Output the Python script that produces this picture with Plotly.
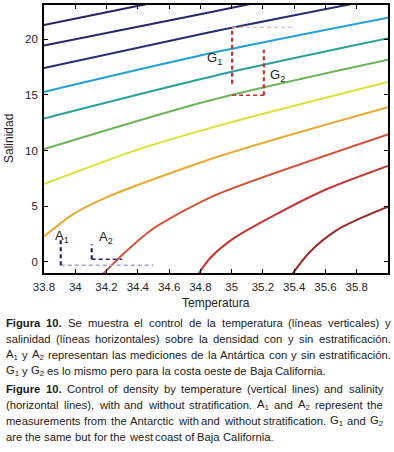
import re
import plotly.graph_objects as go

# ---------------- data ----------------
x_tick_vals = [33.8, 34.0, 34.2, 34.4, 34.6, 34.8, 35.0, 35.2, 35.4, 35.6, 35.8]
x_tick_text = ["33.8", "34", "34.2", "34.4", "34.6", "34.8", "35", "35.2", "35.4", "35.6", "35.8"]
y_tick_vals = [0, 5, 10, 15, 20]
y_tick_text = ["0", "5", "10", "15", "20"]

# density contour lines (x = "Temperatura" axis, y = "Salinidad" axis)
c1_x = [33.80, 34.47]
c1_y = [21.29, 23.20]
c2_x = [33.80, 34.80, 35.13]
c2_y = [19.44, 22.25, 23.20]
c3_x = [33.80, 34.86, 35.76]
c3_y = [17.41, 20.63, 23.15]
c4_x = [33.80, 34.90, 36.00]
c4_y = [15.27, 18.85, 21.94]
c5_x = [33.80, 34.90, 36.00]
c5_y = [12.89, 16.75, 20.09]
c6_x = [33.80, 34.86, 36.00]
c6_y = [10.13, 14.50, 18.16]
c7_x = [33.80, 34.41, 34.93, 36.00]
c7_y = [7.00, 10.13, 12.29, 16.16]
c8_x = [33.80, 33.99, 34.20, 34.93, 36.00]
c8_y = [2.29, 4.32, 5.80, 9.53, 13.90]
c9_x = [34.18, 34.31, 34.48, 34.69, 34.93, 36.00]
c9_y = [-1.05, 0.75, 2.80, 4.55, 6.20, 11.46]
c10_x = [34.79, 34.86, 35.01, 35.29, 35.61, 36.00]
c10_y = [-1.05, 0.30, 2.09, 4.32, 6.55, 8.63]
c11_x = [35.39, 35.50, 35.67, 35.84, 36.00]
c11_y = [-1.05, 0.89, 2.83, 4.02, 4.97]

contour_colors = ["#27235f", "#282667", "#262d70", "#22a0d4", "#2a9f9b",
                  "#6db35a", "#dbe032", "#e9a92e", "#d6503a", "#c93434", "#9b2a2a"]

# measurement markers
a1_x, a1_y = [33.907, 33.907], [-0.30, 1.94]
a1h_x, a1h_y = [33.907, 34.50], [-0.30, -0.30]
a2_x, a2_y = [34.105, 34.105], [0.24, 1.58]
a2h_x, a2h_y = [34.105, 34.30], [0.24, 0.24]
g1_x, g1_y = [35.003, 35.003], [16.00, 21.07]
g1h_x, g1h_y = [35.003, 35.40], [21.07, 21.07]
g2_x, g2_y = [35.206, 35.206], [14.97, 19.05]
g2h_x, g2h_y = [35.003, 35.206], [14.97, 14.97]

labels = [("A<sub>1</sub>", 33.86, 2.25), ("A<sub>2</sub>", 34.137, 2.22),
          ("G<sub>1</sub>", 34.829, 18.28), ("G<sub>2</sub>", 35.231, 16.76)]

caption_lines = [
    "<b>Figura</b> <b>10.</b> Se muestra el control de la temperatura (líneas verticales) y",
    "salinidad (líneas horizontales) sobre la densidad con y sin estratificación.",
    "A<sub>1</sub> y A<sub>2</sub> representan las mediciones de la Antártica con y sin estratificación.",
    "G<sub>1</sub> y G<sub>2</sub> es lo mismo pero para la costa oeste de Baja California.",
    "<b>Figure</b> <b>10.</b> Control of density by temperature (vertical lines) and salinity",
    "(horizontal lines), with and without stratification. A<sub>1</sub> and A<sub>2</sub> represent the",
    "measurements from the Antarctic with and without stratification. G<sub>1</sub> and G<sub>2</sub>",
    "are the same but for the west coast of Baja California.",
]
caption_y_px = [323, 339.5, 355.5, 371.5, 390, 406, 422, 438]
caption_right_px = [390, 390, 390, None, 382, 382, 382, None]

# ---------------- figure ----------------
W, H = 394, 452
ML, MR, MT, MB = 44, 6, 3, 179
PW, PH = W - ML - MR, H - MT - MB
FONT = "Liberation Sans, Arial, sans-serif"
CAP_SIZE = 11.25


def px2paper_x(px):
    return (px - ML) / PW


def px2paper_y(py):
    return (H - MB - py) / PH


# Arial / Liberation Sans advance widths (1/1000 em) for caption layout
_reg = {" ": 278, "(": 333, ")": 333, ",": 278, ".": 278, "-": 333}
for ch in "0123456789":
    _reg[ch] = 556
_reg.update(dict(zip("ABCDEFGHIJKLMNOPQRSTUVWXYZ",
                     [667, 667, 722, 722, 667, 611, 778, 722, 278, 500, 667, 556, 833,
                      722, 778, 667, 778, 722, 667, 611, 722, 667, 944, 667, 667, 611])))
_reg.update(dict(zip("abcdefghijklmnopqrstuvwxyz",
                     [556, 556, 500, 556, 556, 278, 556, 556, 222, 222, 500, 222, 833,
                      556, 556, 556, 556, 333, 500, 278, 556, 500, 722, 500, 500, 500])))
_reg.update({"á": 556, "é": 556, "í": 278, "ó": 556, "ú": 556})
_bold = {"F": 611, "i": 278, "g": 611, "u": 611, "r": 389, "a": 556, "e": 556,
         "1": 556, "0": 556, ".": 278, " ": 278}


def text_width(word, size):
    total = 0.0
    for m in re.finditer(r"<b>(.*?)</b>|<sub>(.*?)</sub>|([^<]+)", word):
        if m.group(1) is not None:
            total += sum(_bold.get(c, 600) for c in m.group(1)) * size
        elif m.group(2) is not None:
            total += sum(_reg.get(c, 556) for c in m.group(2)) * size * 0.7
        else:
            total += sum(_reg.get(c, 556) for c in m.group(3)) * size
    return total / 1000.0


fig = go.Figure()

cx = [c1_x, c2_x, c3_x, c4_x, c5_x, c6_x, c7_x, c8_x, c9_x, c10_x, c11_x]
cy = [c1_y, c2_y, c3_y, c4_y, c5_y, c6_y, c7_y, c8_y, c9_y, c10_y, c11_y]
for xs, ys, col in zip(cx, cy, contour_colors):
    fig.add_trace(go.Scatter(x=xs, y=ys, mode="lines",
                             line=dict(color=col, width=2, shape="spline", smoothing=0.8),
                             showlegend=False, hoverinfo="skip"))

navy_d, navy_l = "#25256b", "#a3a3cc"
red_d, red_l = "#c6302e", "#e7b3b3"
segs = [
    (a1h_x, a1h_y, navy_l, 1.4), (a1_x, a1_y, navy_d, 2.2),
    (a2h_x, a2h_y, navy_d, 1.6), (a2_x, a2_y, navy_d, 2.2),
    (g1h_x, g1h_y, red_l, 1.4), (g1_x, g1_y, red_d, 2.2),
    (g2h_x, g2h_y, red_d, 1.6), (g2_x, g2_y, red_d, 2.2),
]
for xs, ys, col, w in segs:
    fig.add_trace(go.Scatter(x=xs, y=ys, mode="lines",
                             line=dict(color=col, width=w, dash="4px,3px"),
                             showlegend=False, hoverinfo="skip"))

for txt, lx, ly in labels:
    fig.add_annotation(x=lx, y=ly, xref="x", yref="y", text=txt, showarrow=False,
                       xanchor="left", yanchor="middle",
                       font=dict(family=FONT, size=13, color="#222"))

# axis titles
fig.add_annotation(x=px2paper_x(216), y=px2paper_y(303), xref="paper", yref="paper",
                   text="Temperatura", showarrow=False, xanchor="center", yanchor="middle",
                   font=dict(family=FONT, size=12, color="#222"))
fig.add_annotation(x=px2paper_x(9), y=px2paper_y(138), xref="paper", yref="paper",
                   text="Salinidad", showarrow=False, textangle=-90,
                   xanchor="center", yanchor="middle",
                   font=dict(family=FONT, size=12, color="#222"))

# caption, justified word by word like the printed figure
CAP_LEFT = 5
for line, ypx, right in zip(caption_lines, caption_y_px, caption_right_px):
    words = line.split(" ")
    widths = [text_width(w, CAP_SIZE) for w in words]
    space = _reg[" "] * CAP_SIZE / 1000.0
    if right is not None and len(words) > 1:
        space = (right - CAP_LEFT - sum(widths)) / (len(words) - 1)
    xpos = CAP_LEFT
    for w, wd in zip(words, widths):
        fig.add_annotation(x=px2paper_x(xpos), y=px2paper_y(ypx), xref="paper", yref="paper",
                           text=w, showarrow=False, xanchor="left", yanchor="middle",
                           font=dict(family=FONT, size=CAP_SIZE, color="#1a1a1a"),
                           borderpad=0)
        xpos += wd + space

axis_common = dict(showgrid=False, zeroline=False, showline=True, linecolor="black",
                   linewidth=1.6, mirror="ticks", ticks="inside", ticklen=4,
                   tickwidth=1.2, tickcolor="black",
                   tickfont=dict(family=FONT, size=11.5, color="#222"))

fig.update_xaxes(range=[33.8, 36.0], tickvals=x_tick_vals, ticktext=x_tick_text,
                 ticklabelstandoff=2, **axis_common)
fig.update_yaxes(range=[-1.0, 23.08], tickvals=y_tick_vals, ticktext=y_tick_text,
                 ticklabelstandoff=2, **axis_common)

fig.update_layout(width=W, height=H, margin=dict(l=ML, r=MR, t=MT, b=MB),
                  plot_bgcolor="white", paper_bgcolor="white", hovermode=False)

fig.write_html("out.html", config={"displayModeBar": False},
               post_script="document.body.style.margin='0';")
